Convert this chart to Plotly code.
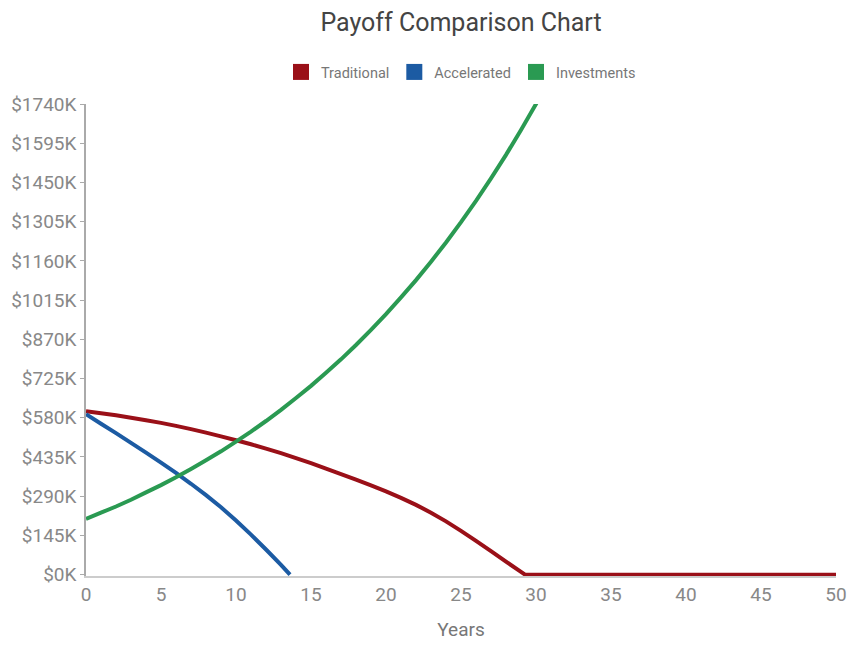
import plotly.graph_objects as go

# ---- data (values in $K) ----
trad_years = list(range(0, 30)) + [29.27, 50]
trad_vals = [604, 597, 589, 580, 571, 561, 550, 538, 525, 511,
             497, 482, 466, 449, 431, 412, 392, 372, 351, 330,
             308, 284, 258, 229, 197, 162, 125, 87, 48, 10,
             0, 0]

accel_years = list(range(0, 14)) + [13.6]
accel_vals = [593, 558, 523, 487, 451, 414, 376, 336, 294, 249,
              200, 148, 93, 36, 0]

inv_years = list(range(0, 32))
inv_vals = [206, 229, 252, 277, 304, 331, 360, 391, 423, 456,
            492, 529, 568, 609, 653, 698, 746, 796, 849, 905,
            963, 1025, 1089, 1157, 1228, 1303, 1382, 1465, 1552, 1644,
            1740, 1841]

y_ticks = [0, 145, 290, 435, 580, 725, 870, 1015, 1160, 1305, 1450, 1595, 1740]
y_tick_labels = ["$" + str(v) + "K" for v in y_ticks]
x_ticks = [0, 5, 10, 15, 20, 25, 30, 35, 40, 45, 50]

series = [
    ("Traditional", trad_years, trad_vals, "#9a1018"),
    ("Accelerated", accel_years, accel_vals, "#1c5ba3"),
    ("Investments", inv_years, inv_vals, "#2a9a52"),
]

FONT = "Roboto, Arial, sans-serif"
fig = go.Figure()
for name, xs, ys, col in series:
    fig.add_trace(go.Scatter(x=xs, y=ys, mode="lines", name=name,
                             line=dict(color=col, width=4, simplify=False),
                             showlegend=False, legendgroup=name,
                             hoverinfo="skip"))
for name, xs, ys, col in series:
    fig.add_trace(go.Scatter(x=[None], y=[None], mode="markers", name=name,
                             marker=dict(symbol="square", size=16, color=col),
                             legendgroup=name, showlegend=True))

fig.update_layout(
    width=849, height=648,
    margin=dict(l=86, r=13, t=104, b=72),
    paper_bgcolor="white", plot_bgcolor="white",
    font=dict(family=FONT, color="#7f7f7f"),
    title=dict(text="Payoff Comparison Chart", x=0.5, xref="paper",
               y=1 - 22 / 648, yref="container", yanchor="middle",
               font=dict(size=25, color="#444444", family=FONT)),
    legend=dict(orientation="h", x=0.5, xanchor="center",
                y=1 + 32 / 472, yanchor="middle",
                font=dict(size=14.5, color="#777777", family=FONT),
                itemsizing="trace"),
    xaxis=dict(range=[0, 50], tickvals=x_ticks, showgrid=False, zeroline=False,
               showline=True, linecolor="#cccccc", linewidth=1.5,
               ticks="", tickfont=dict(size=19, color="#888888"),
               automargin=False,
               title=dict(text="Years", font=dict(size=19, color="#777777"),
                          standoff=18)),
    yaxis=dict(range=[-5, 1740], tickvals=y_ticks, ticktext=y_tick_labels,
               showgrid=False, zeroline=False, showline=True,
               linecolor="#aaaaaa", linewidth=1.5, ticks="outside",
               ticklen=4, tickcolor="#aaaaaa", automargin=False,
               tickfont=dict(size=19, color="#888888")),
)

fig.write_html("out.html")
